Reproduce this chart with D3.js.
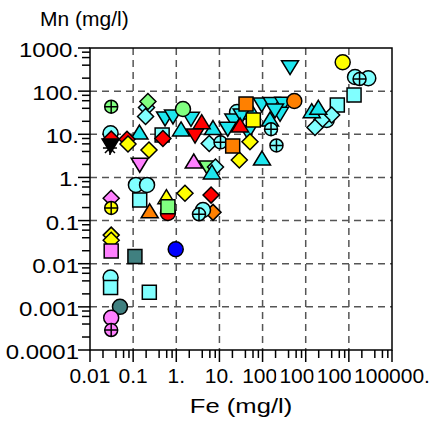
<!DOCTYPE html>
<html>
<head>
<meta charset="utf-8">
<script src="https://cdn.jsdelivr.net/npm/d3@7"></script>
<style>
  body { margin: 0; background: #fff; }
  svg { display: block; font-family: "Liberation Sans", Arial, sans-serif; }
</style>
</head>
<body>
<svg id="chart" width="431" height="425"></svg>
<script>
// decade ticks and their printed labels
var xTickValues = [0.01, 0.1, 1, 10, 100, 1000, 10000, 100000];
var xTickLabels = ["0.01", "0.1", "1.", "10.", "100.", "1000.", "10000.", "100000."];
var yTickValues = [0.0001, 0.001, 0.01, 0.1, 1, 10, 100, 1000];
var yTickLabels = ["0.0001", "0.001", "0.01", "0.1", "1.", "10.", "100.", "1000."];

// samples, [Fe, Mn] in mg/l, grouped by marker
var greenTriDown = [[5.3, 1.75]];
var orangeDiamond = [[7.1, 0.155]];
var redCircle = [[0.64, 0.15]];
var cyanCircle = [[0.03, 10.5], [0.116, 0.67], [0.21, 0.67], [4.16, 0.176], [0.03, 0.0048],
  [28200, 199], [13900, 213], [3070, 21.4], [25.6, 32.9]];
var cyanSquare = [[0.47, 9.6], [0.142, 0.30], [0.03, 0.0028], [0.237, 0.00217],
  [13200, 81.5], [5400, 47.8]];
var cyanDiamond = [[0.204, 41.8], [0.194, 25.9], [5.8, 6.1], [8.1, 1.75],
  [4000, 28], [2350, 21.4], [1640, 14.4]];
var cyanTriDown = [[433, 369], [0.55, 23.9], [0.84, 26.6], [2.19, 23.5], [95.5, 50.4],
  [163, 51.8], [303, 52.3], [254, 30.7], [46, 11.5], [21, 21.4], [15.6, 13.8],
  [32.8, 28], [194, 36.6]];
var cyanTriUp = [[0.14, 10.7], [1.29, 12.6], [7.1, 13.6], [149, 21.4], [97, 2.67],
  [57, 31.2], [6.7, 1.27], [1377, 33.4], [1960, 40]];
var cyanCross = [[17700, 191], [157, 13.1], [210, 5.5], [10.6, 6.5], [3.36, 0.14]];
var redDiamond = [[0.031, 7.8], [0.072, 7.66], [0.49, 8.0], [6.4, 0.39]];
var redTriUp = [[3.88, 18.6], [30, 15.6]];
var redTriDown = [[2.72, 9.6]];
var yellowDiamond = [[0.076, 5.96], [0.233, 4.33], [1.59, 0.43], [51, 6.7], [28.9, 2.54],
  [0.031, 0.046], [0.031, 0.035]];
var yellowTriUp = [[0.59, 0.34]];
var violetTriDown = [[0.142, 2.02]];
var violetTriUp = [[2.54, 2.28]];
var violetDiamond = [[0.031, 0.33]];
var violetSquare = [[0.031, 0.0197]];
var tealCircle = [[0.0495, 0.001]];
var violetCircle = [[0.031, 0.00056]];
var violetCross = [[0.031, 0.00029]];
var yellowCross = [[0.031, 0.196]];
var greenSquare = [[0.64, 0.21]];
var greenCircle = [[1.43, 38.6]];
var greenDiamond = [[0.22, 57.5]];
var greenCross = [[0.031, 43.6]];
var orangeSquare = [[41.3, 50.4], [20.3, 5.35]];
var orangeCircle = [[544, 59]];
var orangeTriUp = [[0.242, 0.16]];
var yellowSquare = [[61, 21.4]];
var yellowCircle = [[7200, 467]];
var tealSquare = [[0.11, 0.0146]];
var blueCircle = [[0.97, 0.0216]];
var blackTriDown = [[0.03, 5.65]];
var blackStar = [[0.029, 4.8]];

var CYAN = "#80ffff", CYAN_T = "#1ee6ee", RED = "#ff0000", YELLOW = "#ffff00",
    ORANGE = "#ff8000", GREEN = "#80ff80", VIOLET = "#ff80ff", TEAL = "#408080",
    BLUE = "#0000ff";

// drawing order (later on top)
var series = [
  { data: greenTriDown, shape: "triDown", fill: GREEN },
  { data: orangeDiamond, shape: "diamond", fill: ORANGE },
  { data: redCircle, shape: "circle", fill: RED },
  { data: cyanCircle, shape: "circle", fill: CYAN },
  { data: cyanSquare, shape: "square", fill: CYAN },
  { data: cyanDiamond, shape: "diamond", fill: CYAN },
  { data: cyanTriDown, shape: "triDown", fill: CYAN_T },
  { data: cyanTriUp, shape: "triUp", fill: CYAN_T },
  { data: cyanCross, shape: "cross", fill: CYAN },
  { data: redDiamond, shape: "diamond", fill: RED },
  { data: redTriUp, shape: "triUp", fill: RED },
  { data: redTriDown, shape: "triDown", fill: RED },
  { data: yellowDiamond, shape: "diamond", fill: YELLOW },
  { data: yellowTriUp, shape: "triUp", fill: YELLOW },
  { data: violetTriDown, shape: "triDown", fill: VIOLET },
  { data: violetTriUp, shape: "triUp", fill: VIOLET },
  { data: violetDiamond, shape: "diamond", fill: VIOLET },
  { data: violetSquare, shape: "square", fill: VIOLET },
  { data: tealCircle, shape: "circle", fill: TEAL },
  { data: violetCircle, shape: "circle", fill: VIOLET },
  { data: violetCross, shape: "cross", fill: VIOLET },
  { data: yellowCross, shape: "cross", fill: YELLOW },
  { data: greenSquare, shape: "square", fill: GREEN },
  { data: greenCircle, shape: "circle", fill: GREEN },
  { data: greenDiamond, shape: "diamond", fill: GREEN },
  { data: greenCross, shape: "cross", fill: GREEN },
  { data: orangeSquare, shape: "square", fill: ORANGE },
  { data: orangeCircle, shape: "circle", fill: ORANGE },
  { data: orangeTriUp, shape: "triUp", fill: ORANGE },
  { data: yellowSquare, shape: "square", fill: YELLOW },
  { data: yellowCircle, shape: "circle", fill: YELLOW },
  { data: tealSquare, shape: "square", fill: TEAL },
  { data: blueCircle, shape: "circle", fill: BLUE },
  { data: blackTriDown, shape: "triDown", fill: "#000" },
  { data: blackStar, shape: "star", fill: "none" }
];

var plotLeft = 90, plotTop = 48, plotSize = 302;
var svg = d3.select("#chart");

var x = d3.scaleLog().domain([0.01, 100000]).range([plotLeft, plotLeft + plotSize]);
var y = d3.scaleLog().domain([0.0001, 1000]).range([plotTop + plotSize, plotTop]);

// minor ticks at 2,4,6,8 of each decade
function minors(vals) {
  var out = [];
  vals.slice(0, -1).forEach(function (v) {
    [2, 4, 6, 8].forEach(function (m) { out.push(v * m); });
  });
  return out;
}

// dashed grid
var grid = svg.append("g").attr("stroke", "#555").attr("stroke-width", 1.5)
  .attr("stroke-dasharray", "7,5");
grid.selectAll(".gx").data(xTickValues.slice(1, -1)).enter().append("line")
  .attr("x1", d => x(d)).attr("x2", d => x(d)).attr("y1", plotTop).attr("y2", plotTop + plotSize);
grid.selectAll(".gy").data(yTickValues.slice(1, -1)).enter().append("line")
  .attr("y1", d => y(d)).attr("y2", d => y(d)).attr("x1", plotLeft).attr("x2", plotLeft + plotSize);

// markers
function shapePath(shape) {
  var r = 7.5, s = 7, d = 8;
  switch (shape) {
    case "square": return "M" + -s + "," + -s + "H" + s + "V" + s + "H" + -s + "Z";
    case "diamond": return "M0," + -d + "L" + d + ",0L0," + d + "L" + -d + ",0Z";
    case "triUp": return "M0,-8L8.5,6L-8.5,6Z";
    case "triDown": return "M0,8L8.5,-6L-8.5,-6Z";
    case "cross": return "M-6.5,0A6.5,6.5 0 1,0 6.5,0A6.5,6.5 0 1,0 -6.5,0Z"
      + "M-6.5,0H6.5M0,-6.5V6.5";
    case "star": return "M-7,0H7M0,-7V7M-5,-5L5,5M-5,5L5,-5";
    default: return "M" + -r + ",0A" + r + "," + r + " 0 1,0 " + r + ",0A" + r + "," + r + " 0 1,0 " + -r + ",0Z";
  }
}

var marks = svg.append("g");
series.forEach(function (s) {
  marks.append("g").selectAll("path").data(s.data).enter().append("path")
    .attr("transform", d => "translate(" + x(d[0]) + "," + y(d[1]) + ")")
    .attr("d", shapePath(s.shape))
    .attr("fill", s.fill)
    .attr("stroke", "#000")
    .attr("stroke-width", 1.5);
});

// frame
svg.append("rect").attr("x", plotLeft).attr("y", plotTop).attr("width", plotSize).attr("height", plotSize)
  .attr("fill", "none").attr("stroke", "#000").attr("stroke-width", 1.5);

// ticks
var ticks = svg.append("g").attr("stroke", "#000").attr("stroke-width", 1.5);
var axisY = plotTop + plotSize;
ticks.selectAll(".xM").data(xTickValues).enter().append("line")
  .attr("x1", d => x(d)).attr("x2", d => x(d)).attr("y1", axisY).attr("y2", axisY + 12);
ticks.selectAll(".xm").data(minors(xTickValues)).enter().append("line")
  .attr("x1", d => x(d)).attr("x2", d => x(d)).attr("y1", axisY).attr("y2", axisY + 8);
ticks.selectAll(".yM").data(yTickValues).enter().append("line")
  .attr("y1", d => y(d)).attr("y2", d => y(d)).attr("x1", plotLeft).attr("x2", plotLeft - 12);
ticks.selectAll(".ym").data(minors(yTickValues)).enter().append("line")
  .attr("y1", d => y(d)).attr("y2", d => y(d)).attr("x1", plotLeft).attr("x2", plotLeft - 8);

// tick labels: the original lettering is wide, so stretch it sideways
var fs = 20;
svg.append("g").selectAll("text").data(yTickValues).enter().append("text")
  .attr("transform", d => "translate(79," + (y(d) + 9) + ") scale(1.2,1)")
  .attr("text-anchor", "end").attr("font-size", fs)
  .text((d, i) => yTickLabels[i]);

// x labels are boxed in white, each one covering the tail of the previous
var xl = svg.append("g");
xTickValues.forEach(function (v, i) {
  var g = xl.append("g")
    .attr("transform", "translate(" + x(v) + ",383) scale(1.05,1)");
  var bg = g.append("rect").attr("fill", "#fff");
  var t = g.append("text").attr("text-anchor", "middle").attr("font-size", fs)
    .text(xTickLabels[i]);
  var b = t.node().getBBox();
  bg.attr("x", b.x - 3).attr("y", b.y).attr("width", b.width + 3).attr("height", b.height);
});

// axis titles
svg.append("text").attr("x", 40).attr("y", 26).attr("font-size", 21).text("Mn (mg/l)");
svg.append("text").attr("transform", "translate(241,413) scale(1.22,1)")
  .attr("text-anchor", "middle").attr("font-size", 21).text("Fe (mg/l)");
</script>
</body>
</html>
